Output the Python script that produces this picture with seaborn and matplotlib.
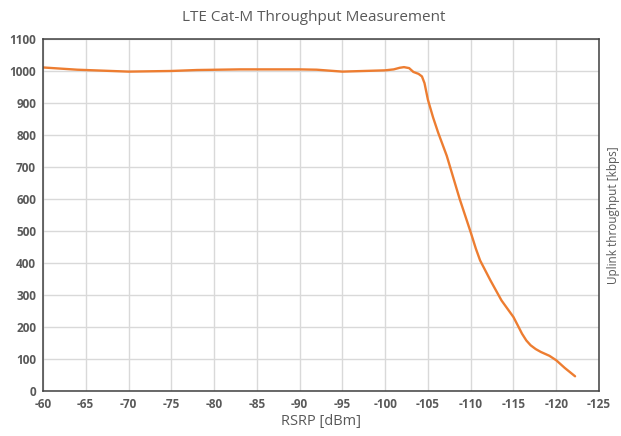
import matplotlib
matplotlib.use("Agg")
import matplotlib.pyplot as plt
import seaborn as sns
import pandas as pd
import numpy as np

# values
rsrp = [-60, -64, -70, -75, -78, -83, -90, -92, -95, -100, -101, -101.7, -102.2,
        -102.8, -103.3, -103.9, -104.3, -104.6, -105, -105.6, -106.2, -107.2, -108.7, -110,
        -110.6, -111.1, -112.3, -113.6, -115, -115.6, -116, -116.5, -117, -117.6, -118.2,
        -119.2, -120, -121, -122.2]
throughput = [1011, 1004, 998, 1000, 1003, 1005, 1005, 1004, 998, 1002, 1005, 1010, 1012,
              1009, 997, 991, 983, 962, 910, 855, 807, 735, 601, 496,
              445, 408, 346, 283, 231, 200, 179, 158, 143, 131, 122,
              110, 96, 72, 46]

x_ticks = [-60, -65, -70, -75, -80, -85, -90, -95, -100, -105, -110, -115, -120, -125]
y_ticks = [0, 100, 200, 300, 400, 500, 600, 700, 800, 900, 1000, 1100]

df = pd.DataFrame({"RSRP": rsrp, "Throughput": throughput})

sns.set_style("white")
plt.rcParams["font.family"] = ["Open Sans", "DejaVu Sans"]
grey = "#595959"

fig = plt.figure(figsize=(6.21, 4.36), dpi=100)
ax = fig.add_axes([0.0692, 0.1032, 0.8954, 0.8074])

sns.lineplot(data=df, x="RSRP", y="Throughput", ax=ax, color="#ED7D31", linewidth=1.7)

ax.set_xlim(-60, -125)
ax.set_ylim(0, 1100)
ax.set_xticks(x_ticks)
ax.set_yticks(y_ticks)
ax.set_xticklabels([str(t) for t in x_ticks], fontweight="bold", color=grey, fontsize=8.5)
ax.set_yticklabels([str(t) for t in y_ticks], fontweight="bold", color=grey, fontsize=8.5)
ax.tick_params(axis="both", direction="inout", length=6, width=1, color="#404040", pad=2)
ax.grid(True, color="#D9D9D9", linewidth=1)
for s in ax.spines.values():
    s.set_color("#404040")
    s.set_linewidth(1.1)

ax.set_xlabel("RSRP [dBm]", color=grey, fontsize=10.5)
ax.xaxis.set_label_coords(0.5, -0.065)
ax.set_ylabel("")

fig.text(0.505, 0.96, "LTE Cat-M Throughput Measurement", ha="center", va="center",
         color=grey, fontsize=11)
fig.text(614 / 621, 0.507, "Uplink throughput [kbps]", rotation=90, ha="center", va="center",
         color=grey, fontsize=8.5)

fig.savefig("out.png", dpi=100)
